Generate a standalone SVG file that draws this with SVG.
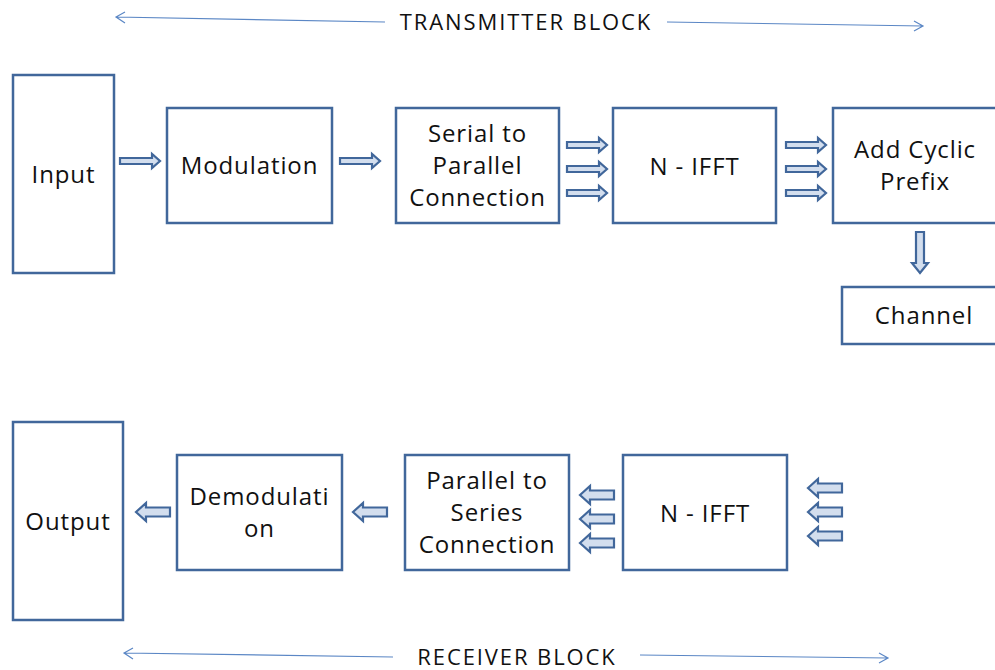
<svg xmlns="http://www.w3.org/2000/svg" width="995" height="670" viewBox="0 0 995 670">
<style>
.box{fill:#fff;stroke:#41679b;stroke-width:2.5}
.t{font-family:"Open Sans","Noto Sans",sans-serif;font-size:24px;letter-spacing:0.9px;fill:#111;text-anchor:middle}
.h{font-family:"Open Sans","Noto Sans",sans-serif;font-size:22px;letter-spacing:1.9px;fill:#111;text-anchor:middle}
.ba{fill:#d3deee;stroke:#41679b;stroke-width:2.2;stroke-linejoin:miter}
.thin{stroke:#5b87c5;stroke-width:1.2;fill:none}
</style>
<defs>
<path id="rs" d="M0,-3 H32 V-7 L40,0 L32,7 V3 H0 Z"/>
<path id="lw" d="M0,0 L10,-9 V-4.5 H34 V4.5 H10 V9 Z"/>
</defs>
<g id="node-input"><rect class="box" x="13" y="75" width="101" height="198"/><text class="t" x="63.5" y="183">Input</text></g>
<g id="node-modulation"><rect class="box" x="167" y="108" width="165" height="115"/><text class="t" x="249.5" y="174">Modulation</text></g>
<g id="node-s2p"><rect class="box" x="396" y="108" width="163" height="115"/><text class="t" x="477.5" y="142">Serial to</text><text class="t" x="477.5" y="174">Parallel</text><text class="t" x="477.5" y="206">Connection</text></g>
<g id="node-ifft"><rect class="box" x="613" y="108" width="163" height="115"/><text class="t" x="694.5" y="175">N - IFFT</text></g>
<g id="node-cp"><rect class="box" x="833" y="108" width="170" height="115"/><text class="t" x="915" y="158">Add Cyclic</text><text class="t" x="915" y="190">Prefix</text></g>
<g id="node-channel"><rect class="box" x="842" y="287" width="161" height="57"/><text class="t" x="924" y="324">Channel</text></g>
<g id="node-output"><rect class="box" x="13" y="422" width="110" height="198"/><text class="t" x="68" y="530">Output</text></g>
<g id="node-demod"><rect class="box" x="177" y="455" width="165" height="115"/><text class="t" x="259.5" y="505">Demodulati</text><text class="t" x="259.5" y="537">on</text></g>
<g id="node-p2s"><rect class="box" x="405" y="455" width="164" height="115"/><text class="t" x="487" y="489">Parallel to</text><text class="t" x="487" y="521">Series</text><text class="t" x="487" y="553">Connection</text></g>
<g id="node-ifft2"><rect class="box" x="623" y="455" width="164" height="115"/><text class="t" x="705" y="522">N - IFFT</text></g>
<g id="labels">
<text class="h" x="526" y="30">TRANSMITTER BLOCK</text>
<text class="h" x="517" y="665">RECEIVER BLOCK</text>
</g>
<g id="connectors">
<use href="#rs" class="ba" x="120" y="161"/>
<use href="#rs" class="ba" x="340" y="161"/>
<use href="#rs" class="ba" x="567" y="145"/>
<use href="#rs" class="ba" x="567" y="169"/>
<use href="#rs" class="ba" x="567" y="193"/>
<use href="#rs" class="ba" x="786" y="145"/>
<use href="#rs" class="ba" x="786" y="169"/>
<use href="#rs" class="ba" x="786" y="193"/>
<path class="ba" d="M916,232 H924 V263 H928 L920,273 L912,263 H916 Z"/>
<use href="#lw" class="ba" x="136" y="512"/>
<use href="#lw" class="ba" x="353" y="512"/>
<use href="#lw" class="ba" x="580" y="495"/>
<use href="#lw" class="ba" x="580" y="519"/>
<use href="#lw" class="ba" x="580" y="543"/>
<use href="#lw" class="ba" x="808" y="488"/>
<use href="#lw" class="ba" x="808" y="512"/>
<use href="#lw" class="ba" x="808" y="536"/>
<path class="thin" d="M385,22 L116,17 M125,12 L116,17 L125,23"/>
<path class="thin" d="M667,22 L923,26 M914,21 L923,26 L914,31"/>
<path class="thin" d="M393,657 L124,653 M133,648 L124,653 L133,659"/>
<path class="thin" d="M640,655 L888,658 M879,653 L888,658 L879,663"/>
</g>
</svg>
